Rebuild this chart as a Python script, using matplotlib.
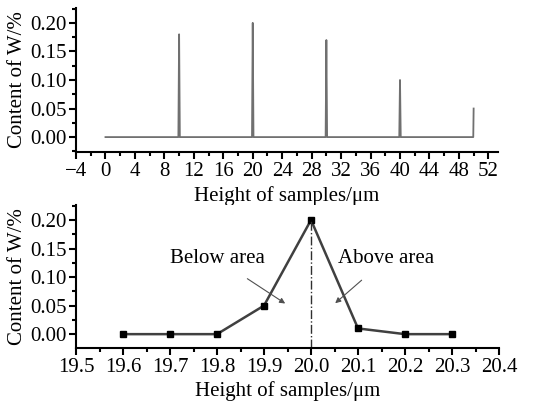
import matplotlib
matplotlib.use("Agg")
import matplotlib.pyplot as plt
from matplotlib.ticker import MultipleLocator

plt.rcParams['font.family'] = ['Liberation Serif', 'DejaVu Serif']
plt.rcParams['mathtext.fontset'] = 'stix'

# Top panel: full profile
top_x = [0, 9.9, 10.0, 10.1, 19.9, 20.0, 20.1, 29.9, 30.0, 30.1, 39.9, 40.0, 40.1, 49.95, 50.0]
top_y = [0, 0, 0.18, 0, 0, 0.20, 0, 0, 0.17, 0, 0, 0.10, 0, 0, 0.05]

# Bottom panel: detail near 20 um
bot_x = [19.6, 19.7, 19.8, 19.9, 20.0, 20.1, 20.2, 20.3]
bot_y = [0.00, 0.00, 0.00, 0.05, 0.20, 0.01, 0.00, 0.00]

xlabel = "Height of samples/\u03bcm"
ylabel = "Content of W/%"
fs = 15

fig = plt.figure(figsize=(5.43, 4.03), dpi=100)
ax1 = fig.add_axes([0.140, 0.623, 0.777, 0.357])
ax2 = fig.add_axes([0.140, 0.136, 0.779, 0.355])

def style(ax, xpad):
    for s in ['top', 'right']:
        ax.spines[s].set_visible(False)
    for s in ['left', 'bottom']:
        ax.spines[s].set_linewidth(1.5)
    ax.tick_params(which='major', direction='out', length=5, width=1.5, labelsize=fs, pad=2)
    ax.tick_params(which='minor', direction='out', length=3, width=1.5)
    ax.set_ylabel(ylabel, fontsize=fs, labelpad=2)
    ax.set_xlabel(xlabel, fontsize=fs, labelpad=xpad)

ax1.plot(top_x, top_y, color='#707070', lw=1.3)
ax1.set_xlim(-4, 53.3)
ax1.set_ylim(-0.026, 0.226)
ax1.xaxis.set_minor_locator(MultipleLocator(2))
ax1.yaxis.set_minor_locator(MultipleLocator(0.025))
ax1.set_yticks([0, 0.05, 0.10, 0.15, 0.20])
ax1.set_yticklabels(["0.00", "0.05", "0.10", "0.15", "0.20"])
ax1.set_xticks(range(-4, 53, 4))
ax1.set_xticklabels(["\u22124"] + [str(v) for v in range(0, 53, 4)])
style(ax1, 4)

ax2.plot(bot_x, bot_y, color='#404040', lw=1.8, marker='s', ms=4.5,
         mfc='black', mec='black')
ax2.plot([20.0, 20.0], [-0.0246, 0.20], color='#303030', lw=1.0, ls='-.')
ax2.set_xlim(19.5, 20.4)
ax2.set_ylim(-0.0246, 0.226)
ax2.set_xticks([19.5 + 0.1 * i for i in range(10)])
ax2.set_xticklabels([f"{19.5 + 0.1 * i:.1f}" for i in range(10)])
ax2.xaxis.set_minor_locator(MultipleLocator(0.05))
ax2.set_yticks([0, 0.05, 0.10, 0.15, 0.20])
ax2.set_yticklabels(["0.00", "0.05", "0.10", "0.15", "0.20"])
ax2.yaxis.set_minor_locator(MultipleLocator(0.025))
style(ax2, 3)

ax2.annotate("Below area", xy=(19.95, 0.051), xytext=(19.80, 0.132),
             fontsize=fs, ha='center', va='center',
             arrowprops=dict(arrowstyle='-|>', color='#505050', lw=0.8,
                             mutation_scale=8, shrinkA=10))
ax2.annotate("Above area", xy=(20.047, 0.051), xytext=(20.16, 0.132),
             fontsize=fs, ha='center', va='center',
             arrowprops=dict(arrowstyle='-|>', color='#505050', lw=0.8,
                             mutation_scale=8, shrinkA=10))

fig.savefig("out.png", dpi=100)
